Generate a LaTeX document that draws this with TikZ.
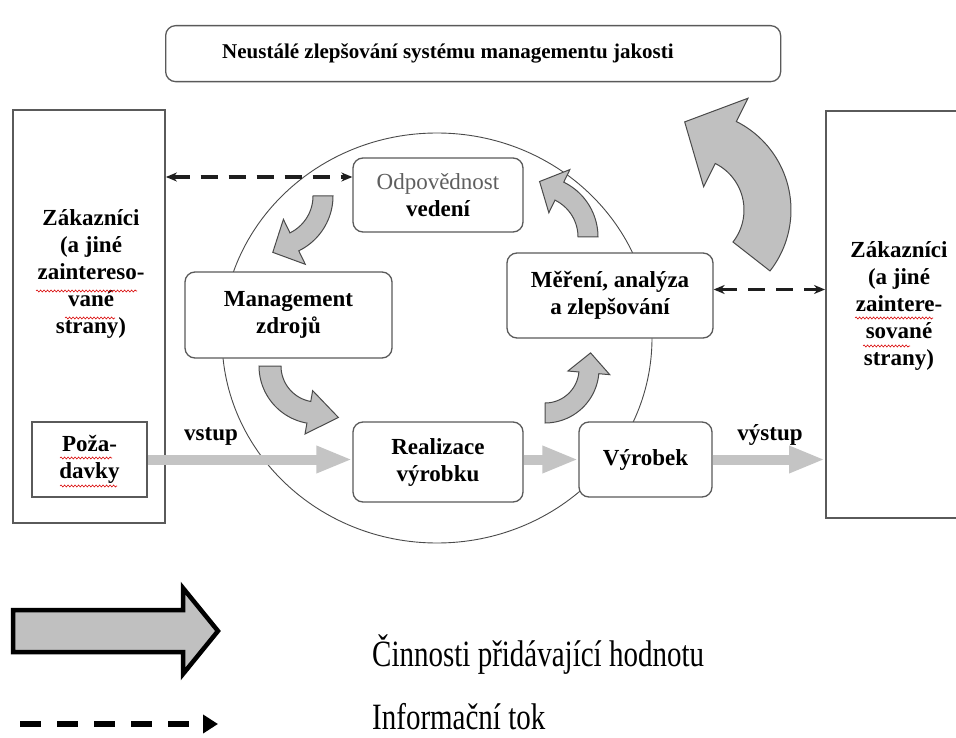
\documentclass[tikz,border=0pt]{standalone}
\usepackage{fontspec}
\setmainfont{Liberation Serif}
\usepackage{graphicx}
\usetikzlibrary{arrows.meta,decorations.pathmorphing,calc}

\definecolor{boxline}{HTML}{5A5A5A}
\definecolor{flowgray}{HTML}{C4C4C4}
\definecolor{bandfill}{HTML}{C0C0C0}
\definecolor{bandline}{HTML}{4A4A4A}
\definecolor{infoline}{HTML}{1E1E1E}
\definecolor{lightlabel}{HTML}{5E5E5E}

% curved block arrow along a circle:
% #1,#2 centre, #3 mid radius, #4 half band width,
% #5 tail angle (outer edge), #6 tail angle (inner edge), #7 head angle,
% #8 half head width, #9 signed head length
\newcommand\bandarrow[9]{%
  \filldraw[band] plot[domain=#5:#7,samples=40] ({#1+(#3+#4)*cos(\x)},{#2+(#3+#4)*sin(\x)})
   -- ({#1+(#3+#8)*cos(#7)},{#2+(#3+#8)*sin(#7)})
   -- ({#1+#3*cos(#7)-(#9)*sin(#7)},{#2+#3*sin(#7)+(#9)*cos(#7)})
   -- ({#1+(#3-#8)*cos(#7)},{#2+(#3-#8)*sin(#7)})
   -- plot[domain=#7:#6,samples=40] ({#1+(#3-#4)*cos(\x)},{#2+(#3-#4)*sin(\x)})
   -- cycle;}

\tikzset{
  stage/.style={draw=boxline, line width=1.3pt, rounded corners=10pt, fill=white,
    align=center, inner sep=0pt, font=\fontsize{23}{27}\selectfont\bfseries},
  party/.style={draw=boxline, line width=1.8pt, fill=white, inner sep=0pt},
  partytext/.style={align=center, font=\fontsize{23}{27}\selectfont\bfseries},
  band/.style={fill=bandfill, draw=bandline, line width=1pt, line join=miter},
  flow/.style={draw=flowgray, line width=10pt, -{Triangle[length=36pt,width=25pt]}},
  info/.style={draw=infoline, line width=3.5pt, dash pattern=on 17pt off 11pt,
    {Stealth[length=11pt,width=9pt]}-{Stealth[length=11pt,width=9pt]}},
  spell/.style={draw=red!85!black, line width=0.6pt, decorate,
    decoration={snake, amplitude=1pt, segment length=3.5pt}},
  legendtext/.style={anchor=base west, inner sep=0pt, font=\fontsize{29}{30}\selectfont},
}

\begin{document}
\begin{tikzpicture}[x=1pt, y=-1pt]
\useasboundingbox (0,0) rectangle (956,738);
\fill[white] (0,0) rectangle (956,738);

% the process circle
\draw[draw=bandline, line width=0.9pt] (437,338) ellipse [x radius=215, y radius=205];

% customer boxes
\node[party, minimum width=152, minimum height=413] (zakL) at (89,316.5) {};
\node[party, minimum width=140, minimum height=407, anchor=north west] (zakR) at (825,110) {};
\node[partytext] (zakLtext) at (91,274) {Zákazníci\\(a jiné\\zaintereso-\\vané\\strany)};
\node[partytext] (zakRtext) at (899,306) {Zákazníci\\(a jiné\\zaintere-\\sované\\strany)};
\node[draw=boxline, line width=1.5pt, fill=white, minimum width=115, minimum height=75,
  align=center, inner sep=0pt, font=\fontsize{23}{27}\selectfont\bfseries] (poz) at (89.5,459.5) {Poža-\\davky};

% top banner
\node[draw=boxline, line width=1.3pt, rounded corners=10pt, minimum width=615, minimum height=56,
  anchor=north west, inner sep=0pt] (top) at (165,25) {};
\node[anchor=west, inner sep=0pt, font=\fontsize{21}{24}\selectfont\bfseries] (toptext)
  at ([xshift=57pt]top.west) {Neustálé zlepšování systému managementu jakosti};

% curved arrows of the cycle
\bandarrow{272}{196}{51}{10}{0}{0}{64}{25}{24}
\bandarrow{317}{366}{47}{11}{180}{180}{100}{22}{-30}
\bandarrow{545}{369}{44}{10}{90}{90}{5}{21}{-20}
\bandarrow{537}{237}{51}{10}{0}{0}{-64}{24}{-22}
\bandarrow{692}{210}{75.5}{23.5}{38}{38}{-63.4}{49.5}{-46}

% process stages
\node[stage, minimum width=170, minimum height=74] (odp) at (438,195)
  {{\mdseries\color{lightlabel}Odpovědnost}\\vedení};
\node[stage, minimum width=207, minimum height=86] (mgmt) at (288.5,315) {Management\\zdrojů};
\node[stage, minimum width=206, minimum height=85] (mer) at (610,295.5) {Měření, analýza\\a zlepšování};
\node[stage, minimum width=170, minimum height=80] (real) at (438,462) {Realizace\\výrobku};
\node[stage, minimum width=133, minimum height=75] (vyr) at (645.5,459.5) {Výrobek};

% value-adding flow
\draw[flow] (poz.east) -- (poz.east -| real.west);
\draw[flow] (real.east |- vyr.west) -- (vyr.west);
\draw[flow] (vyr.east) -- (vyr.east -| zakR.west);
\node[anchor=base, font=\fontsize{23}{27}\selectfont\bfseries] (vstup) at (211,440) {vstup};
\node[anchor=base, font=\fontsize{23}{27}\selectfont\bfseries] (vystup) at (770,440) {výstup};

% information flow
\coordinate (odpIn) at ([yshift=18pt]odp.west);
\coordinate (merOut) at ([yshift=6pt]mer.east);
\draw[info] (odpIn -| zakL.east) -- (odpIn);
\draw[info] (merOut) -- (merOut -| zakR.west);

% spelling marks
\draw[spell] (36,291) -- (137,291);
\draw[spell] (65,318) -- (115,318);
\draw[spell] (855,318) -- (933,318);
\draw[spell] (863,346) -- (910,346);
\draw[spell] (60,458) -- (112,458);
\draw[spell] (60,486) -- (117,486);

% legend
\filldraw[fill=bandfill, draw=black, line width=4.5pt, line join=miter]
  (13,610) -- (183,610) -- (183,588) -- (218,631) -- (183,674) -- (183,652) -- (13,652) -- cycle;
\coordinate (legA) at (20,724);
\coordinate (legB) at (218,724);
\draw[draw=black, line width=5.5pt, dash pattern=on 21pt off 16pt, -{Triangle[length=15pt,width=18pt]}] (legA) -- (legB);
\node[legendtext] (legValue) at (372,666) {\scalebox{1}[1.28]{Činnosti přidávající hodnotu}};
\node[legendtext] (legInfo) at (372,729) {\scalebox{1}[1.28]{Informační tok}};
\end{tikzpicture}
\end{document}
